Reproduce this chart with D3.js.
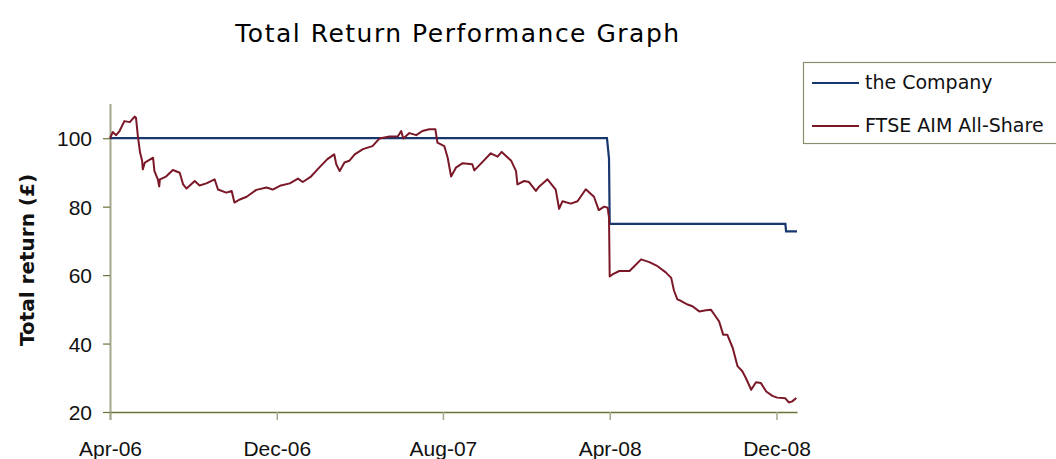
<!DOCTYPE html>
<html>
<head>
<meta charset="utf-8">
<script src="https://cdn.jsdelivr.net/npm/d3@7"></script>
<style>
  body { margin: 0; background: #fff; }
  svg { font-family: "DejaVu Sans", sans-serif; }
</style>
</head>
<body>
<div id="chart"></div>
<script>
var svgWidth = 1056;
var svgHeight = 459;

// plot area edges
var margin = { top: 104, right: 259, bottom: 47, left: 110 };
var width = svgWidth - margin.left - margin.right;
var height = svgHeight - margin.top - margin.bottom;

var seriesNames = ["the Company", "FTSE AIM All-Share"];
var seriesColors = ["#17376e", "#7b1828"];

var tickDates = ["2006-04-01", "2006-12-01", "2007-08-01", "2008-04-01", "2008-12-01"];
var tickLabels = ["Apr-06", "Dec-06", "Aug-07", "Apr-08", "Dec-08"];
var yTicks = [20, 40, 60, 80, 100];

var companyDates = ["2006-04-01", "2008-03-28", "2008-03-31", "2008-04-01", "2008-12-14", "2008-12-15", "2008-12-31"];
var companyValues = [100, 100, 94, 75, 75, 72.8, 72.8];

var ftseDates = [
  "2006-04-01", "2006-04-05", "2006-04-10", "2006-04-15", "2006-04-22", "2006-04-30", "2006-05-07", "2006-05-09",
  "2006-05-12", "2006-05-15", "2006-05-18", "2006-05-19", "2006-05-22", "2006-06-03", "2006-06-05", "2006-06-10",
  "2006-06-12", "2006-06-13", "2006-06-22", "2006-07-02", "2006-07-12", "2006-07-17", "2006-07-22", "2006-08-03",
  "2006-08-10", "2006-08-20", "2006-09-01", "2006-09-06", "2006-09-18", "2006-09-26", "2006-09-30", "2006-10-08",
  "2006-10-18", "2006-11-01", "2006-11-16", "2006-11-25", "2006-12-07", "2006-12-20", "2007-01-01", "2007-01-08",
  "2007-01-20", "2007-02-01", "2007-02-13", "2007-02-23", "2007-02-26", "2007-03-03", "2007-03-10", "2007-03-17",
  "2007-03-25", "2007-04-06", "2007-04-20", "2007-04-30", "2007-05-15", "2007-05-27", "2007-06-01", "2007-06-04",
  "2007-06-13", "2007-06-23", "2007-07-02", "2007-07-12", "2007-07-21", "2007-07-24", "2007-08-03", "2007-08-08",
  "2007-08-13", "2007-08-20", "2007-08-30", "2007-09-13", "2007-09-16", "2007-09-28", "2007-10-10", "2007-10-20",
  "2007-10-26", "2007-11-09", "2007-11-16", "2007-11-18", "2007-11-28", "2007-12-05", "2007-12-15", "2007-12-20",
  "2008-01-01", "2008-01-13", "2008-01-18", "2008-01-23", "2008-02-04", "2008-02-14", "2008-02-26", "2008-03-09",
  "2008-03-16", "2008-03-24", "2008-03-29", "2008-03-31", "2008-04-01", "2008-04-05", "2008-04-15", "2008-04-30",
  "2008-05-07", "2008-05-17", "2008-05-29", "2008-06-10", "2008-06-22", "2008-06-30", "2008-07-04", "2008-07-09",
  "2008-07-14", "2008-07-24", "2008-07-31", "2008-08-10", "2008-08-20", "2008-08-27", "2008-09-01", "2008-09-08",
  "2008-09-14", "2008-09-20", "2008-09-28", "2008-10-05", "2008-10-12", "2008-10-17", "2008-10-25", "2008-11-01",
  "2008-11-08", "2008-11-16", "2008-11-25", "2008-12-02", "2008-12-14", "2008-12-19", "2008-12-24", "2008-12-30"
];
var ftseValues = [
  100, 101.8, 100.9, 102.1, 105, 104.7, 106.3, 106.0,
  100.2, 95.8, 93.4, 90.9, 92.9, 94.3, 90.4, 88,
  85.9, 88, 88.8, 90.7, 89.9, 86.5, 85.3, 87.5,
  86.2, 86.8, 88, 85, 84.1, 84.6, 81.2, 82.1,
  82.9, 84.9, 85.6, 85, 86.2, 86.8, 88.2, 87.2,
  88.8, 91.4, 93.9, 95.3, 92.4, 90.4, 92.9, 93.4,
  95.3, 96.8, 97.7, 99.9, 100.5, 100.5, 102.1, 99.9,
  101.5, 100.9, 102.1, 102.6, 102.6, 98.7, 97.7, 94.3,
  88.8, 91.4, 92.7, 92.4, 90.6, 93.1, 95.6, 94.6,
  96, 93.4, 90.4, 86.5, 87.5, 87.2, 84.6, 85.9,
  88, 85, 79.4, 81.6, 80.9, 81.6, 85.1, 82.9,
  79, 80, 79.7, 76.8, 59.6, 60.2, 61.2, 61.2,
  62.6, 64.6, 63.8, 62.6, 60.8, 59.2, 55.5, 52.9,
  52.5, 51.4, 50.9, 49.4, 49.7, 49.9, 48.5, 46.5,
  42.6, 42.6, 38.7, 33.4, 31.9, 30, 26.5, 28.7,
  28.5, 26.0, 24.7, 24.2, 24.0, 22.8, 23.1, 24.1
];

var parseDate = d3.timeParse("%Y-%m-%d");

var svg = d3.select("#chart")
  .append("svg")
  .attr("width", svgWidth)
  .attr("height", svgHeight);

var chartGroup = svg.append("g")
  .attr("transform", `translate(${margin.left}, ${margin.top})`);

var xTimeScale = d3.scaleTime()
  .domain([parseDate("2006-04-01"), parseDate("2008-12-31")])
  .range([0, width]);

var yLinearScale = d3.scaleLinear()
  .domain([20, 110])
  .range([height, 0]);

// axes
var leftAxis = d3.axisLeft(yLinearScale)
  .tickValues(yTicks)
  .tickSizeInner(7)
  .tickSizeOuter(0)
  .tickPadding(11)
  .tickFormat(d3.format("d"));

var bottomAxis = d3.axisBottom(xTimeScale)
  .tickValues(tickDates.map(parseDate))
  .tickSizeInner(8)
  .tickSizeOuter(0)
  .tickPadding(21)
  .tickFormat((d, i) => tickLabels[i]);

var yAxisG = chartGroup.append("g").call(leftAxis);
yAxisG.select(".domain").attr("stroke", "#a6a68c").attr("stroke-width", 2)
  .attr("d", `M0.5,0V${height + 8}`);
yAxisG.selectAll(".tick line").attr("stroke", "#6b7238").attr("stroke-width", 1.2);
yAxisG.selectAll(".tick text").style("font-size", "21px").attr("fill", "#111").attr("dy", "0.36em");

var xAxisG = chartGroup.append("g")
  .attr("transform", `translate(0, ${height})`)
  .call(bottomAxis);
xAxisG.select(".domain").attr("stroke", "#6b7238").attr("stroke-width", 1.5);
xAxisG.selectAll(".tick line").attr("stroke", "#a6a68c").attr("stroke-width", 1.5);
xAxisG.selectAll(".tick text").style("font-size", "21px").attr("fill", "#111");

// lines
var line = d3.line()
  .x(d => xTimeScale(d.date))
  .y(d => yLinearScale(d.value));

var companyData = companyDates.map((d, i) => ({ date: parseDate(d), value: companyValues[i] }));
var ftseData = ftseDates.map((d, i) => ({ date: parseDate(d), value: ftseValues[i] }));

chartGroup.append("path")
  .datum(companyData)
  .attr("fill", "none")
  .attr("stroke", seriesColors[0])
  .attr("stroke-width", 2.2)
  .attr("d", line);

chartGroup.append("path")
  .datum(ftseData)
  .attr("fill", "none")
  .attr("stroke", seriesColors[1])
  .attr("stroke-width", 2)
  .attr("stroke-linejoin", "round")
  .attr("d", line);

// title
svg.append("text")
  .attr("x", 458)
  .attr("y", 42)
  .attr("text-anchor", "middle")
  .style("font-size", "25px")
  .style("letter-spacing", "1.5px")
  .attr("fill", "#000")
  .text("Total Return Performance Graph");

// y axis label
svg.append("text")
  .attr("transform", "rotate(-90)")
  .attr("x", -260)
  .attr("y", 34)
  .attr("text-anchor", "middle")
  .style("font-size", "20px")
  .style("font-weight", "bold")
  .attr("fill", "#111")
  .text("Total return (£)");

// legend
var legend = svg.append("g");
legend.append("rect")
  .attr("x", 803.5)
  .attr("y", 62.5)
  .attr("width", 270)
  .attr("height", 81)
  .attr("fill", "#fff")
  .attr("stroke", "#8c8c70")
  .attr("stroke-width", 1.2);

var legendRows = [83, 126];
seriesNames.forEach(function(name, i) {
  legend.append("line")
    .attr("x1", 812).attr("x2", 859)
    .attr("y1", legendRows[i]).attr("y2", legendRows[i])
    .attr("stroke", seriesColors[i])
    .attr("stroke-width", 2);
  legend.append("text")
    .attr("x", 865)
    .attr("y", legendRows[i] + 6)
    .style("font-size", "19px")
    .attr("fill", "#111")
    .text(name);
});
</script>
</body>
</html>
